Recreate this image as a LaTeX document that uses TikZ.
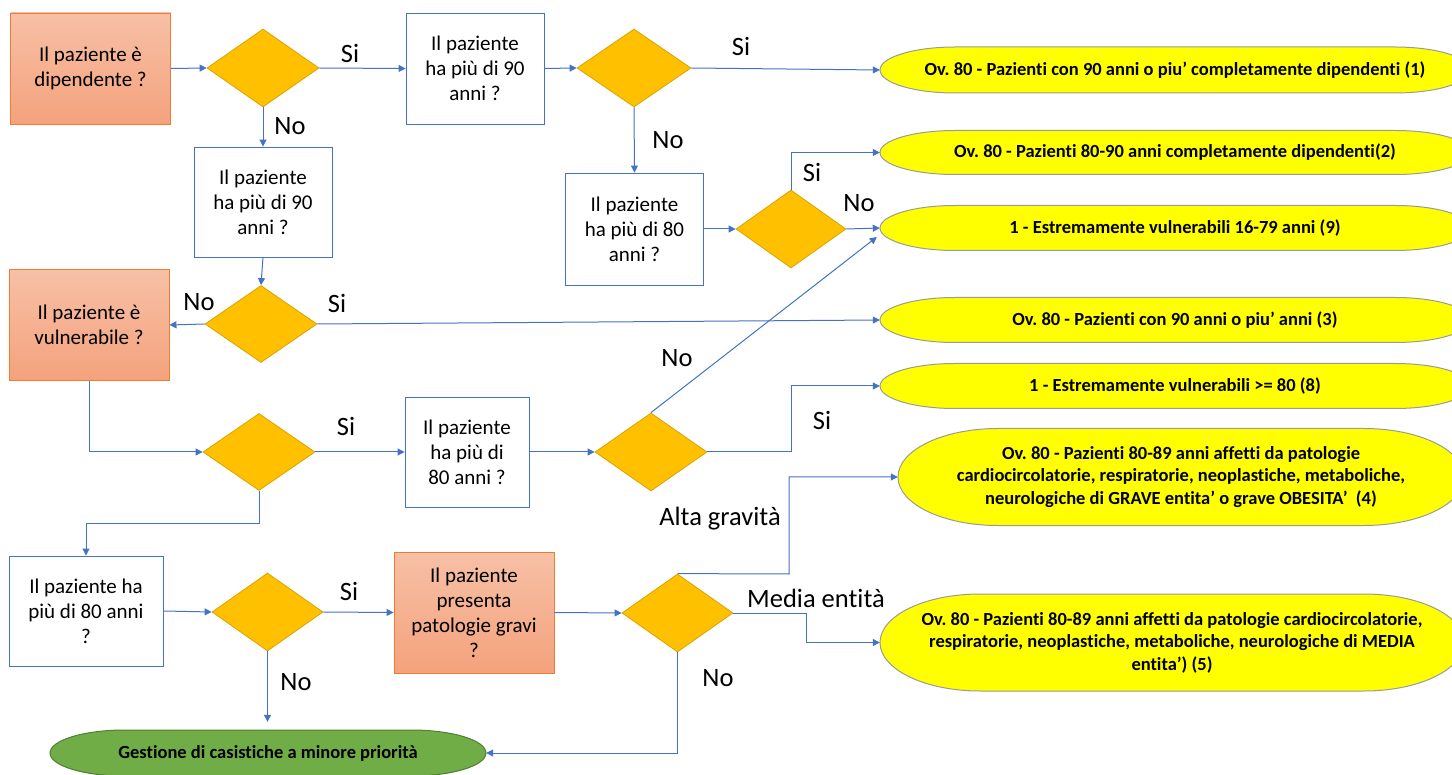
\documentclass[tikz,border=0pt]{standalone}
\usepackage{fontspec}
\setmainfont{Carlito}[Ligatures={NoCommon}]
\newfontfamily\condfont{Carlito}[Ligatures={NoCommon}]
\usetikzlibrary{shapes.geometric,arrows.meta,calc}
\definecolor{boxblue}{HTML}{4472C4}
\definecolor{arrblue}{HTML}{4472C4}
\definecolor{orEdge}{HTML}{ED7D31}
\definecolor{orTop}{HTML}{F7C0A6}
\definecolor{orBot}{HTML}{F4A27C}
\definecolor{diaFill}{HTML}{FFC000}
\definecolor{diaEdge}{HTML}{D9A400}
\definecolor{yelFill}{HTML}{FFFF00}
\definecolor{yelEdge}{HTML}{9A9A9A}
\definecolor{grFill}{HTML}{70AD47}
\definecolor{grEdge}{HTML}{507E32}
\frenchspacing
\newcommand\boxfont{\fontsize{21}{25}\selectfont}
\newcommand\lblfont{\fontsize{26.5}{30}\selectfont}
\newcommand\termfont{\condfont\bfseries\frenchspacing\fontsize{18.5}{22.5}\selectfont}
% terminator outline: style, cx, cy, half width, half height, end radius
\newcommand\termshape[6]{%
  \path[#1] (#2-#4+#6,#3-#5) -- (#2+#4-#6,#3-#5)
    arc[start angle=90,end angle=-90,x radius=#6pt,y radius=#5pt]
    -- (#2-#4+#6,#3+#5)
    arc[start angle=270,end angle=90,x radius=#6pt,y radius=#5pt] -- cycle;}
\tikzset{
  bluebox/.style={draw=boxblue, line width=0.9pt, fill=white, align=center, inner sep=0pt, font=\boxfont},
  orangebox/.style={draw=orEdge, line width=0.9pt, top color=orTop, bottom color=orBot, align=center, inner sep=0pt, font=\boxfont},
  dia/.style={diamond, draw=diaEdge, fill=diaFill, line width=0.8pt, inner sep=0pt, minimum width=112pt, minimum height=78pt},
  arr/.style={draw=arrblue, line width=1pt, -{Triangle[length=7pt,width=7pt]}},
  lbl/.style={font=\lblfont, inner sep=0pt},
  termtext/.style={font=\termfont, align=center, inner sep=0pt},
  yelshape/.style={fill=yelFill, draw=yelEdge, line width=1pt},
  grshape/.style={fill=grFill, draw=grEdge, line width=1pt}
}
\begin{document}
\begin{tikzpicture}[x=1pt,y=-1pt]
\useasboundingbox (0,0) rectangle (1452,775);
\fill[white] (0,0) rectangle (1452,775);
\clip (0,0) rectangle (1452,775);

% ---------- rectangles ----------
\node[orangebox, minimum width=160pt, minimum height=111pt] (A) at (90.5,68.5) {Il paziente è\\dipendente ?};
\node[bluebox, minimum width=138pt, minimum height=111pt] (B) at (475,68.5) {Il paziente\\ha più di 90\\anni ?};
\node[bluebox, minimum width=138pt, minimum height=110pt] (C) at (263,202) {Il paziente\\ha più di 90\\anni ?};
\node[bluebox, minimum width=138pt, minimum height=112pt] (D) at (634.5,229) {Il paziente\\ha più di 80\\anni ?};
\node[orangebox, minimum width=160pt, minimum height=111pt] (V) at (89,325) {Il paziente è\\vulnerabile ?};
\node[bluebox, minimum width=124pt, minimum height=110pt] (F) at (467,452) {Il paziente\\ha più di\\80 anni ?};
\node[bluebox, minimum width=154pt, minimum height=110pt] (G) at (86,611) {Il paziente ha\\più di 80 anni\\?};
\node[orangebox, minimum width=160pt, minimum height=121pt] (H) at (474,612.5) {Il paziente\\presenta\\patologie gravi\\?};

% ---------- diamonds ----------
\node[dia] (D1) at (263,68) {};
\node[dia, minimum width=114pt] (D2) at (634,68) {};
\node[dia, minimum width=110pt] (D3) at (791,229) {};
\node[dia, minimum height=77pt] (D4) at (261,324) {};
\node[dia, minimum height=77pt] (D5) at (259,452) {};
\node[dia] (D6) at (651,452) {};
\node[dia, minimum width=111pt] (D7) at (677.5,613) {};
\node[dia, minimum width=111pt] (D8) at (267.5,612) {};

% ---------- terminators ----------
\termshape{yelshape}{1175}{70}{295}{23}{75}
\node[termtext, minimum width=590pt, minimum height=46pt] (E1) at (1175,70) {Ov. 80 - Pazienti con 90 anni o piu’ completamente dipendenti (1)};
\termshape{yelshape}{1175}{152.5}{295}{22}{75}
\node[termtext, minimum width=590pt, minimum height=44pt] (E2) at (1175,152.5) {Ov. 80 - Pazienti 80-90 anni completamente dipendenti(2)};
\termshape{yelshape}{1175}{228}{295}{22.5}{75}
\node[termtext, minimum width=590pt, minimum height=45pt] (E3) at (1175,228) {1 - Estremamente vulnerabili 16-79 anni (9)};
\termshape{yelshape}{1175}{320}{295}{22.5}{75}
\node[termtext, minimum width=590pt, minimum height=45pt] (E4) at (1175,320) {Ov. 80 - Pazienti con 90 anni o piu’ anni (3)};
\termshape{yelshape}{1175}{386}{295}{22.5}{75}
\node[termtext, minimum width=590pt, minimum height=45pt] (E5) at (1175,386) {1 - Estremamente vulnerabili >= 80 (8)};
\termshape{yelshape}{1181}{477}{283}{48.5}{100}
\node[termtext, minimum width=566pt, minimum height=97pt] (E6) at (1181,477) {Ov. 80 - Pazienti 80-89 anni affetti da patologie\\cardiocircolatorie, respiratorie, neoplastiche, metaboliche,\\neurologiche di GRAVE entita’ o grave OBESITA’\ \ (4)};
\termshape{yelshape}{1172}{642.5}{292}{48.5}{100}
\node[termtext, minimum width=584pt, minimum height=97pt] (E7) at (1172,642.5) {Ov. 80 - Pazienti 80-89 anni affetti da patologie cardiocircolatorie,\\respiratorie, neoplastiche, metaboliche, neurologiche di MEDIA\\entita’) (5)};
\termshape{grshape}{268}{753}{218}{23}{75}
\node[termtext, minimum width=436pt, minimum height=46pt] (Gr) at (268,753) {Gestione di casistiche a minore priorità};

% ---------- connectors ----------
\draw[arr] (A.east) -- (D1.west);
\draw[arr] (D1.east) -- (B.west);
\draw[arr] (D1.south) -- (C.north);
\draw[arr] (B.east) -- (D2.west);
\draw[arr] (D2.east) -- (E1.west);
\draw[arr] (D2.south) -- (D.north);
\draw[arr] (D.east) -- (D3.west);
\draw[arr] (D3.north) |- (E2.west);
\draw[arr] (D3.east) -- (E3.west);
\draw[arr] (C.south) -- (D4.north);
\draw[arr] (D4.west) -- (V.east);
\draw[arr] (D4.east) -- (E4.west);
\draw[arr] (V.south) |- (D5.west);
\draw[arr] (D5.east) -- (F.west);
\draw[arr] (F.east) -- (D6.west);
\draw[arr] (D6.north) -- ($(E3.west)+(-3,9)$);
\coordinate (k1) at (791,452);
\draw[arr] (D6.east) -- (k1) |- (E5.west);
\coordinate (k2) at (259,523);
\draw[arr] (D5.south) -- (k2) -| (G.north);
\draw[arr] (G.east) -- (D8.west);
\draw[arr] (D8.east) -- (H.west);
\draw[arr, shorten >=8pt] (D8.south) -- (D8.south |- Gr.north);
\draw[arr] (H.east) -- (D7.west);
\coordinate (k3) at (789,574);
\draw[arr] (D7.north) -- (k3) |- (E6.west);
\coordinate (k4) at (806,613);
\draw[arr] (D7.east) -- (k4) |- (E7.west);
\draw[arr] (D7.south) |- (Gr.east);

% ---------- labels ----------
\node[lbl] (l1) at (350,53) {Si};
\node[lbl] (l2) at (290,126) {No};
\node[lbl] (l3) at (741,46) {Si};
\node[lbl] (l4) at (668,140) {No};
\node[lbl] (l5) at (812,172) {Si};
\node[lbl] (l6) at (859,203) {No};
\node[lbl] (l7) at (199,302) {No};
\node[lbl] (l8) at (337,303) {Si};
\node[lbl] (l9) at (677,358) {No};
\node[lbl] (l10) at (346,426) {Si};
\node[lbl] (l11) at (822,420) {Si};
\node[lbl] (l12) at (720,519) {Alta gravità};
\node[lbl] (l13) at (816,598) {Media entità};
\node[lbl] (l14) at (349,591) {Si};
\node[lbl] (l15) at (296,682) {No};
\node[lbl] (l16) at (718,678) {No};
\end{tikzpicture}
\end{document}
